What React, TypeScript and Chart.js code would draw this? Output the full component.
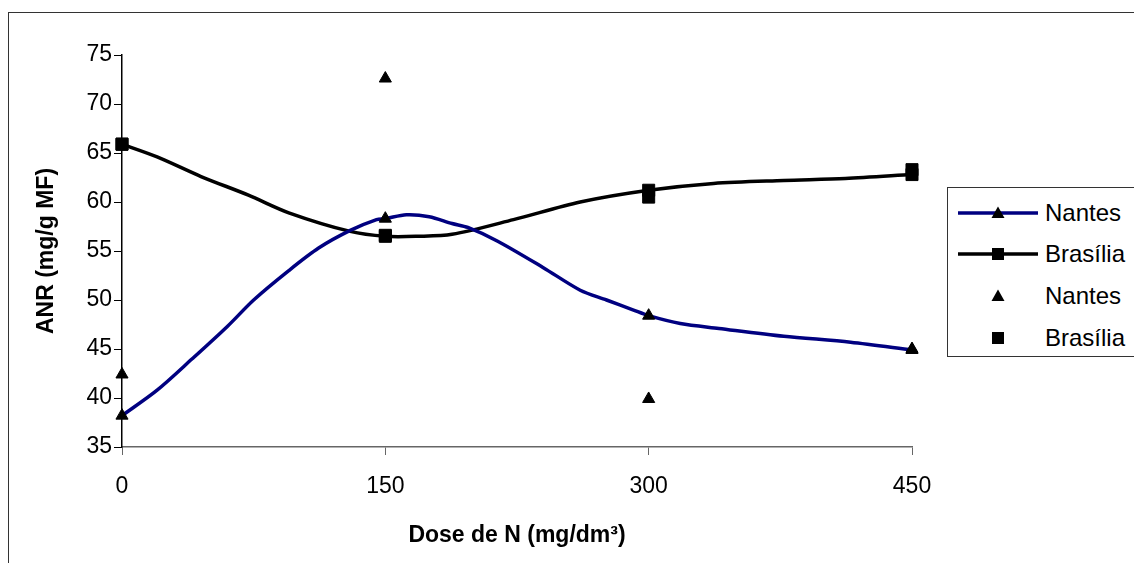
import React, { useEffect, useRef } from "react";
import { Chart, registerables } from "chart.js";

Chart.register(...registerables);

// ---- data ----
const doseTicks = [0, 150, 300, 450];

const nantesCurveDose = [0, 20, 40, 60, 75, 95, 112, 130, 145, 150, 162, 175, 188, 197, 214, 240, 261, 276, 291, 300, 318, 340, 377, 415, 450];
const nantesCurveANR = [38.2, 40.8, 44.0, 47.3, 50.0, 53.0, 55.3, 57.1, 58.2, 58.3, 58.7, 58.5, 57.8, 57.4, 56.0, 53.3, 51.0, 50.0, 49.0, 48.4, 47.6, 47.1, 46.3, 45.7, 44.9];

const brasiliaCurveDose = [0, 20, 45, 72, 95, 130, 150, 168, 188, 223, 261, 300, 337, 377, 412, 450];
const brasiliaCurveANR = [65.9, 64.6, 62.6, 60.7, 58.9, 57.0, 56.5, 56.5, 56.7, 58.2, 60.0, 61.2, 61.9, 62.2, 62.4, 62.8];

const nantesObsDose = [0, 150, 300, 450];
const nantesObsANR = [42.4, 72.6, 39.9, 45.0];

const brasiliaObsDose = [0, 150, 300, 450];
const brasiliaObsANR = [65.9, 56.6, 60.5, 63.3];

const legendLabels = ["Nantes", "Brasília", "Nantes", "Brasília"];
const xTitle = "Dose de N (mg/dm³)";
const yTitle = "ANR (mg/g MF)";

const FONT = '"Liberation Sans", Arial, Helvetica, sans-serif';
const NAVY = "#000080";

const toPts = (xs: number[], ys: number[]) => xs.map((x, i) => ({ x, y: ys[i] }));
const markerRadii = (xs: number[], r: number) => xs.map((x) => (doseTicks.includes(x) ? r : 0));

export default function App() {
  const canvasRef = useRef<HTMLCanvasElement | null>(null);

  useEffect(() => {
    if (!canvasRef.current) return;
    const chart = new Chart(canvasRef.current, {
      type: "scatter",
      data: {
        datasets: [
          {
            label: legendLabels[2],
            data: toPts(nantesObsDose, nantesObsANR),
            showLine: false,
            pointStyle: "triangle",
            pointRadius: 7,
            pointBackgroundColor: "#000",
            pointBorderColor: "#000",
            pointBorderWidth: 1,
            clip: false,
          },
          {
            label: legendLabels[3],
            data: toPts(brasiliaObsDose, brasiliaObsANR),
            showLine: false,
            pointStyle: "rect",
            pointRadius: 8.5,
            pointBackgroundColor: "#000",
            pointBorderColor: "#000",
            pointBorderWidth: 1,
            clip: false,
          },
          {
            label: legendLabels[0],
            data: toPts(nantesCurveDose, nantesCurveANR),
            showLine: true,
            borderColor: NAVY,
            borderWidth: 3.5,
            tension: 0.3,
            pointStyle: "triangle",
            pointRadius: markerRadii(nantesCurveDose, 7),
            pointBackgroundColor: "#000",
            pointBorderColor: "#000",
            pointBorderWidth: 1,
            clip: false,
          },
          {
            label: legendLabels[1],
            data: toPts(brasiliaCurveDose, brasiliaCurveANR),
            showLine: true,
            borderColor: "#000",
            borderWidth: 3.5,
            tension: 0.3,
            pointStyle: "rect",
            pointRadius: markerRadii(brasiliaCurveDose, 8.5),
            pointBackgroundColor: "#000",
            pointBorderColor: "#000",
            pointBorderWidth: 1,
            clip: false,
          },
        ],
      },
      options: {
        responsive: false,
        animation: false,
        devicePixelRatio: 1,
        layout: { padding: { left: 0, top: 55, right: 222, bottom: 0 } },
        plugins: { legend: { display: false }, tooltip: { enabled: false } },
        scales: {
          x: {
            type: "linear",
            position: "bottom",
            min: 0,
            max: 450,
            afterBuildTicks: (s: any) => {
              s.ticks = doseTicks.map((v) => ({ value: v }));
            },
            afterFit: (s: any) => {
              s.height = 116;
            },
            ticks: { color: "#000", font: { family: FONT, size: 23 }, padding: 18 },
            grid: { drawOnChartArea: false, drawTicks: true, tickLength: 8, color: "#666", lineWidth: 1 },
            border: { color: "#666", width: 1.5 },
            title: {
              display: true,
              text: xTitle,
              color: "#000",
              font: { family: FONT, size: 23, weight: "bold" },
              padding: { top: 0, bottom: 14 },
            },
          },
          y: {
            type: "linear",
            position: "left",
            min: 35,
            max: 75,
            ticks: { stepSize: 5, color: "#000", font: { family: FONT, size: 23 }, padding: 2 },
            afterFit: (s: any) => {
              s.width = 122;
            },
            grid: { drawOnChartArea: false, drawTicks: true, tickLength: 8, color: "#000", lineWidth: 1 },
            border: { color: "#000", width: 1.5 },
            title: {
              display: true,
              text: yTitle,
              color: "#000",
              font: { family: FONT, size: 23, weight: "bold" },
              padding: { top: 33, bottom: 0 },
            },
          },
        },
      },
    } as any);
    return () => chart.destroy();
  }, []);

  const rowCenters = [25, 66, 108, 150];
  const legendItem = (i: number) => {
    const isTri = i % 2 === 0;
    const hasLine = i < 2;
    const lineColor = i === 0 ? NAVY : "#000";
    return (
      <div key={i} style={{ position: "absolute", left: 0, top: rowCenters[i] - 15, height: 30, width: 300 }}>
        <svg width={84} height={30} style={{ position: "absolute", left: 8, top: 0 }}>
          {hasLine && <line x1={2} y1={15} x2={82} y2={15} stroke={lineColor} strokeWidth={3.5} />}
          {isTri ? (
            <polygon points="42,8.5 48.5,20 35.5,20" fill="#000" />
          ) : (
            <rect x={36} y={9} width={12} height={12} fill="#000" />
          )}
        </svg>
        <span
          style={{
            position: "absolute",
            left: 97,
            top: 0,
            height: 30,
            lineHeight: "30px",
            fontFamily: FONT,
            fontSize: 24,
            color: "#000",
            whiteSpace: "nowrap",
          }}
        >
          {legendLabels[i]}
        </span>
      </div>
    );
  };

  return (
    <div style={{ position: "fixed", left: 0, top: 0, width: 1134, height: 563, overflow: "hidden", background: "#fff" }}>
      <div
        style={{
          position: "absolute",
          left: 8,
          top: 12,
          width: 2000,
          height: 2000,
          border: "1px solid #333",
          boxSizing: "border-box",
        }}
      />
      <canvas ref={canvasRef} width={1134} height={563} style={{ position: "absolute", left: 0, top: 0 }} />
      <div
        style={{
          position: "absolute",
          left: 947,
          top: 187,
          width: 300,
          height: 170,
          border: "1px solid #333",
          boxSizing: "border-box",
          background: "#fff",
        }}
      >
        {[0, 1, 2, 3].map(legendItem)}
      </div>
    </div>
  );
}
